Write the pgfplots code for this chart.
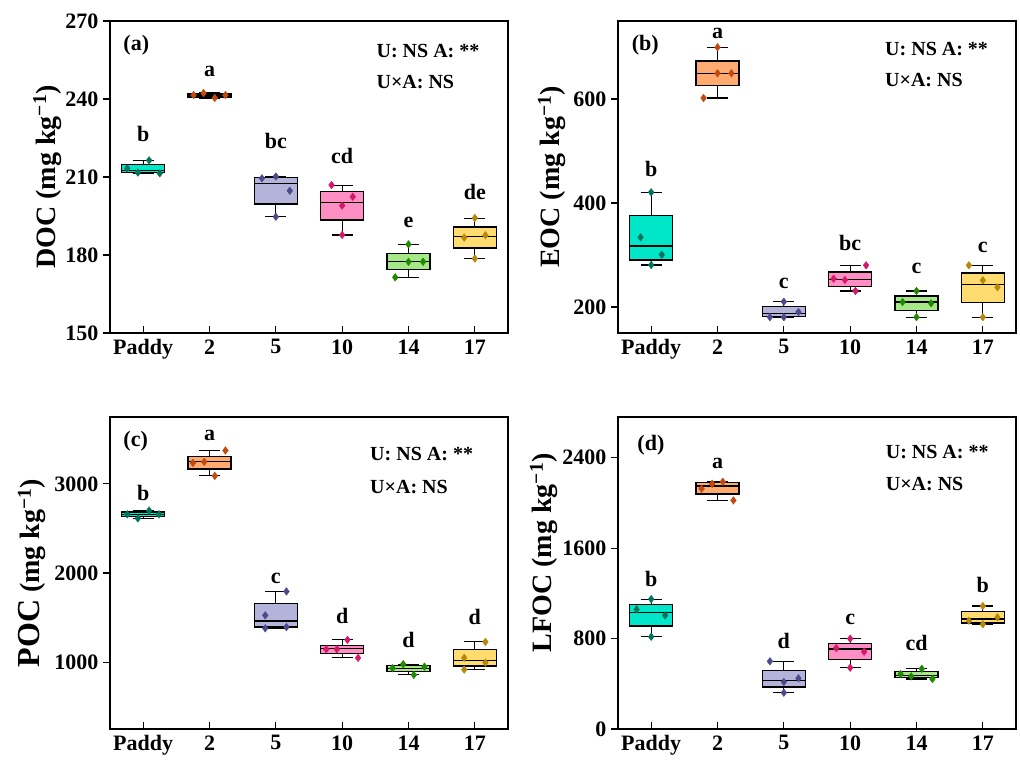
\documentclass[border=0pt]{standalone}
\usepackage{fontspec}
\setmainfont{Liberation Serif}
\usepackage{pgfplots}
\pgfplotsset{compat=1.18}

\definecolor{fA}{HTML}{00E6C8}\definecolor{pA}{HTML}{00735C}
\definecolor{fB}{HTML}{FFAA70}\definecolor{pB}{HTML}{C04A10}
\definecolor{fC}{HTML}{B4B4DA}\definecolor{pC}{HTML}{4B4B8C}
\definecolor{fD}{HTML}{FF8EC4}\definecolor{pD}{HTML}{D6186A}
\definecolor{fE}{HTML}{A6E888}\definecolor{pE}{HTML}{1F8A00}
\definecolor{fF}{HTML}{FFDC70}\definecolor{pF}{HTML}{B8860B}

\newcommand{\fs}[1]{\fontsize{#1}{#1}\selectfont\bfseries}
% box: position, lower whisker, lower quartile, median, upper quartile, upper whisker, fill
\newcommand{\bx}[7]{%
  \pgfmathsetmacro\xl{#1-0.325}\pgfmathsetmacro\xr{#1+0.325}%
  \pgfmathsetmacro\cl{#1-0.16}\pgfmathsetmacro\cr{#1+0.16}%
  \addplot[black, line width=1.1pt, unbounded coords=jump] coordinates {
    (#1,#2) (#1,#3) (#1,nan) (#1,#5) (#1,#6) (#1,nan)
    (\cl,#2) (\cr,#2) (#1,nan) (\cl,#6) (\cr,#6)};
  \addplot[draw=black, line width=1.3pt, fill=#7] coordinates {
    (\xl,#3) (\xr,#3) (\xr,#5) (\xl,#5)} -- cycle;
  \addplot[black, line width=1.3pt] coordinates {(\xl,#4) (\xr,#4)};
}
\newcommand{\pts}[2]{\addplot[only marks, mark=diamond*, mark size=3.8pt, color=#1] coordinates {#2};}
\newcommand{\lett}[3]{\node[anchor=base, font=\fs{22}] at (axis cs:#1,#2) {#3};}

\pgfplotsset{
  panel/.style={
    scale only axis, width=398pt, height=312pt,
    xmin=-0.5, xmax=5.5,
    xtick={0,...,5}, xticklabels={Paddy,2,5,10,14,17},
    xtick pos=bottom, ytick pos=left,
    xtick align=inside, ytick align=outside,
    major tick length=7pt,
    axis line style={line width=1.2pt},
    every tick/.style={black, line width=1.2pt},
    /pgf/number format/assume math mode=true,
    /pgf/number format/1000 sep={},
    ticklabel style={font=\fs{22}},
    yticklabel style={xshift=-1pt},
    xticklabel style={yshift=-3pt},
    clip=false,
  },
}

\begin{document}
\begin{tikzpicture}
\useasboundingbox (0,0) rectangle (1020pt,763pt);

% (a) DOC
\begin{axis}[panel, at={(110pt,430pt)}, anchor=south west,
  ymin=150, ymax=270, ytick={150,180,210,240,270},
  ylabel={DOC (mg kg\textsuperscript{−1})},
  ylabel style={at={(axis description cs:-0.138,0.5)}, anchor=base, font=\fs{28}}]
\bx{0}{211.5}{211.8}{212.4}{214.9}{216.4}{fA}
\bx{1}{240.4}{240.8}{241.2}{241.9}{242.6}{fB}
\bx{2}{194.7}{199.6}{207.4}{209.9}{210.2}{fC}
\bx{3}{187.7}{193.5}{200.3}{204.5}{206.9}{fD}
\bx{4}{171.4}{174.5}{177.4}{180.6}{184.1}{fE}
\bx{5}{178.6}{182.7}{187.2}{190.8}{194.2}{fF}
\pts{pA}{(-0.24,213.3) (-0.08,211.7) (0.09,216.4) (0.25,211.4)}
\pts{pB}{(0.76,241.5) (0.91,242.3) (1.08,240.4) (1.24,241.5)}
\pts{pC}{(1.79,209.5) (2,210.2) (2.21,204.7) (2,194.7)}
\pts{pD}{(2.84,206.9) (3,199.0) (3.16,202.4) (3,187.7)}
\pts{pE}{(3.8,171.4) (4,184.1) (4,177.4) (4.22,177.4)}
\pts{pF}{(4.84,186.7) (5,194.2) (5.16,187.6) (5,178.6)}
\lett{0}{223.6}{b}\lett{1}{248.8}{a}\lett{2}{221}{bc}
\lett{3}{215.3}{cd}\lett{4}{190.5}{e}\lett{5}{201.2}{de}
\node[anchor=base west, font=\fs{22}] at (axis description cs:0.025,0.907) {(a)};
\node[anchor=base west, font=\fs{20}] at (axis description cs:0.661,0.884) {U: NS A: **};
\node[anchor=base west, font=\fs{20}] at (axis description cs:0.661,0.784) {U×A: NS};
\end{axis}

% (b) EOC
\begin{axis}[panel, at={(618pt,430pt)}, anchor=south west,
  ymin=150, ymax=750, ytick={200,400,600},
  ylabel={EOC (mg kg\textsuperscript{−1})},
  ylabel style={at={(axis description cs:-0.146,0.5)}, anchor=base, font=\fs{28}}]
\bx{0}{280.8}{290.4}{317.3}{376.3}{420.6}{fA}
\bx{1}{601.9}{626.3}{649.4}{673}{699.4}{fB}
\bx{2}{180.4}{181.3}{187.1}{200.6}{210.2}{fC}
\bx{3}{230.8}{239.8}{253.3}{267.3}{280.2}{fD}
\bx{4}{180.4}{192.9}{209.6}{221.2}{230.8}{fE}
\bx{5}{180.4}{209}{243.6}{265.4}{280.2}{fF}
\pts{pA}{(-0.16,334) (0.16,300.6) (0,420.6) (0,280.8)}
\pts{pB}{(1,699.4) (1,649.4) (1.21,649.4) (0.79,601.9)}
\pts{pC}{(1.79,180.4) (2,180.4) (2.22,190.4) (2,210.2)}
\pts{pD}{(2.75,254.4) (2.92,251.9) (3.08,230.8) (3.24,280.2)}
\pts{pE}{(3.79,209.6) (4,230.8) (4,180.4) (4.22,207.1)}
\pts{pF}{(4.79,280.2) (5,251.3) (5.22,237.9) (5,180.4)}
\lett{0}{450.6}{b}\lett{1}{716.7}{a}\lett{2}{236}{c}
\lett{3}{309.6}{bc}\lett{4}{263.5}{c}\lett{5}{304.4}{c}
\node[anchor=base west, font=\fs{22}] at (axis description cs:0.026,0.907) {(b)};
\node[anchor=base west, font=\fs{20}] at (axis description cs:0.6625,0.889) {U: NS A: **};
\node[anchor=base west, font=\fs{20}] at (axis description cs:0.6625,0.789) {U×A: NS};
\end{axis}

% (c) POC
\begin{axis}[panel, at={(110pt,34pt)}, anchor=south west,
  ymin=250, ymax=3750, ytick={1000,2000,3000},
  ylabel={{\fs{32}POC} (mg kg\textsuperscript{−1})},
  ylabel style={at={(axis description cs:-0.176,0.5)}, anchor=base, font=\fs{28}}]
\bx{0}{2613}{2636}{2658}{2685}{2699}{fA}
\bx{1}{3089}{3168}{3247}{3303}{3374}{fB}
\bx{2}{1380}{1393}{1460}{1658}{1793}{fC}
\bx{3}{1048}{1100}{1152}{1190}{1250}{fD}
\bx{4}{857}{894}{932}{966}{977}{fE}
\bx{5}{916}{958}{1022}{1145}{1227}{fF}
\pts{pA}{(-0.24,2658) (-0.08,2613) (0.09,2700) (0.24,2658)}
\pts{pB}{(0.75,3235) (0.92,3247) (1.08,3089) (1.24,3374)}
\pts{pC}{(1.84,1525) (1.84,1380) (2.16,1393) (2.16,1793)}
\pts{pD}{(2.76,1145) (2.92,1145) (3.08,1250) (3.24,1048)}
\pts{pE}{(3.76,932) (3.92,977) (4.08,857) (4.24,950)}
\pts{pF}{(4.84,1048) (4.84,916) (5.16,1227) (5.16,995)}
\lett{0}{2815}{b}\lett{1}{3489}{a}\lett{2}{1887}{c}
\lett{3}{1437}{d}\lett{4}{1168}{d}\lett{5}{1425}{d}
\node[anchor=base west, font=\fs{22}] at (axis description cs:0.025,0.905) {(c)};
\node[anchor=base west, font=\fs{20}] at (axis description cs:0.645,0.859) {U: NS A: **};
\node[anchor=base west, font=\fs{20}] at (axis description cs:0.645,0.755) {U×A: NS};
\end{axis}

% (d) LFOC
\begin{axis}[panel, at={(618pt,34pt)}, anchor=south west,
  ymin=0, ymax=2760, ytick={0,800,1600,2400},
  ylabel={LFOC (mg kg\textsuperscript{−1})},
  ylabel style={at={(axis description cs:-0.166,0.565)}, anchor=base, font=\fs{28}}]
\bx{0}{816}{911}{1032}{1102}{1149}{fA}
\bx{1}{2022}{2078}{2149}{2178}{2193}{fB}
\bx{2}{321}{371}{430}{516}{599}{fC}
\bx{3}{542}{616}{707}{758}{799}{fD}
\bx{4}{442}{454}{474}{507}{533}{fE}
\bx{5}{926}{937}{973}{1037}{1088}{fF}
\pts{pA}{(-0.22,1058) (0,1149) (0.21,1005) (0,816)}
\pts{pB}{(0.76,2125) (0.92,2169) (1.08,2187) (1.24,2022)}
\pts{pC}{(1.79,599) (2,416) (2.22,448) (2,321)}
\pts{pD}{(2.79,716) (3,799) (3.21,684) (3,542)}
\pts{pE}{(3.76,486) (3.92,466) (4.08,533) (4.24,442)}
\pts{pF}{(4.79,958) (5,1088) (5.22,988) (5,926)}
\lett{0}{1258}{b}\lett{1}{2305}{a}\lett{2}{714}{d}
\lett{3}{920}{c}\lett{4}{698}{cd}\lett{5}{1209}{b}
\node[anchor=base west, font=\fs{22}] at (axis description cs:0.04,0.894) {(d)};
\node[anchor=base west, font=\fs{20}] at (axis description cs:0.664,0.866) {U: NS A: **};
\node[anchor=base west, font=\fs{20}] at (axis description cs:0.664,0.763) {U×A: NS};
\end{axis}
\end{tikzpicture}
\end{document}
